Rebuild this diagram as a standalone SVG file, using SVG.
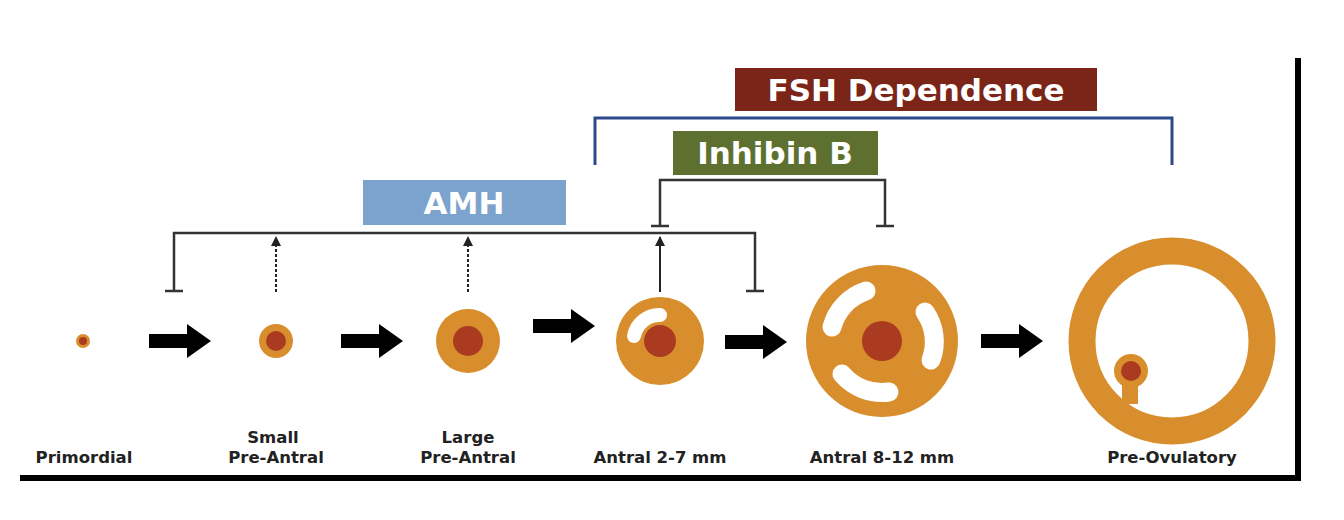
<svg xmlns="http://www.w3.org/2000/svg" width="1344" height="520" viewBox="0 0 1344 520">
<style>
.lbl{font-family:"DejaVu Sans",sans-serif;font-weight:bold;font-size:16.5px;fill:#222;text-anchor:middle}
.box{font-family:"DejaVu Sans",sans-serif;font-weight:bold;font-size:31px;fill:#fff;text-anchor:middle}
.org{fill:#d98e2d}.red{fill:#ab3b20}
.br{fill:none;stroke:#333;stroke-width:2.5}
.cav{fill:none;stroke:#fff;stroke-linecap:round}
</style>
<defs>
<marker id="ah" viewBox="0 0 10 10" refX="9" refY="5" markerWidth="5" markerHeight="5" orient="auto"><path d="M0,0L10,5L0,10z" fill="#222"/></marker>
<path id="bigarrow" d="M0,-7H38V-17L62,0L38,17V7H0Z" fill="#000"/>
</defs>
<rect width="1344" height="520" fill="#fff"/>
<g id="frame"><path d="M20,478H1298V58" fill="none" stroke="#000" stroke-width="6"/></g>
<g id="fsh"><rect x="735" y="68" width="362" height="43" fill="#7b2418"/><text class="box" x="916" y="101">FSH Dependence</text></g>
<g id="inhibin"><rect x="673" y="131" width="205" height="44" fill="#5e7030"/><text class="box" x="775" y="164">Inhibin B</text></g>
<g id="amh"><rect x="363" y="180" width="203" height="45" fill="#7ca3cd"/><text class="box" x="464" y="214">AMH</text></g>
<g id="connectors">
<path d="M595,165V118H1172V165" fill="none" stroke="#2c4a8a" stroke-width="3"/>
<path class="br" d="M660,226V180H885V226M651,226H669M876,226H894"/>
<path class="br" d="M174,291V233H755V291M165,291H183M746,291H764"/>
<line x1="276" y1="292" x2="276" y2="237" stroke="#222" stroke-width="2" stroke-dasharray="3,2" marker-end="url(#ah)"/>
<line x1="468" y1="292" x2="468" y2="237" stroke="#222" stroke-width="2" stroke-dasharray="3,2" marker-end="url(#ah)"/>
<line x1="660" y1="292" x2="660" y2="237" stroke="#222" stroke-width="2" marker-end="url(#ah)"/>
<use href="#bigarrow" x="149" y="341"/>
<use href="#bigarrow" x="341" y="341"/>
<use href="#bigarrow" x="533" y="326"/>
<use href="#bigarrow" x="725" y="342"/>
<use href="#bigarrow" x="981" y="341"/>
</g>
<g id="primordial"><circle class="org" cx="83" cy="341" r="7"/><circle class="red" cx="83" cy="341" r="4"/><text class="lbl" x="84" y="463">Primordial</text></g>
<g id="small"><circle class="org" cx="276" cy="341" r="17"/><circle class="red" cx="276" cy="341" r="10"/><text class="lbl" x="273" y="443">Small</text><text class="lbl" x="276" y="463">Pre-Antral</text></g>
<g id="large"><circle class="org" cx="468" cy="341" r="32"/><circle class="red" cx="468" cy="341" r="15"/><text class="lbl" x="468" y="443">Large</text><text class="lbl" x="468" y="463">Pre-Antral</text></g>
<g id="antral27"><circle class="org" cx="660" cy="341" r="44"/><path class="cav" stroke-width="14" d="M634,336A26,26 0 0 1 660,315"/><circle class="red" cx="660" cy="341" r="16"/><text class="lbl" x="660" y="463">Antral 2-7 mm</text></g>
<g id="antral812"><circle class="org" cx="882" cy="341" r="76"/>
<path class="cav" stroke-width="19" d="M832,327A52,52 0 0 1 866,291M925,312A52,52 0 0 1 931,360M889,392A52,52 0 0 1 842,374"/>
<circle class="red" cx="882" cy="341" r="20"/><text class="lbl" x="882" y="463">Antral 8-12 mm</text></g>
<g id="preovulatory"><circle cx="1172" cy="341" r="90" fill="none" stroke="#d98e2d" stroke-width="27"/>
<rect class="org" x="1122" y="368" width="16" height="36"/><circle class="org" cx="1131" cy="371" r="17"/><circle class="red" cx="1131" cy="371" r="10"/>
<text class="lbl" x="1172" y="463">Pre-Ovulatory</text></g>
</svg>
